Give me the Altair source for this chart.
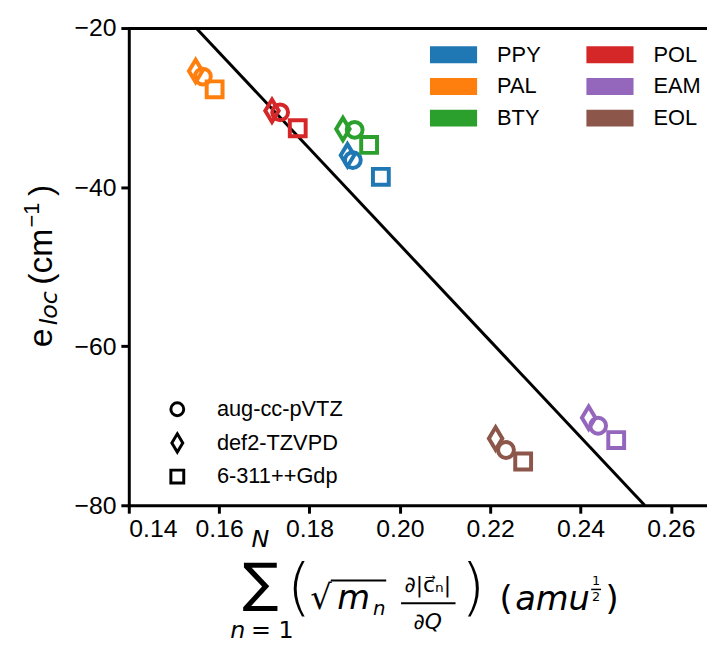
import altair as alt
import pandas as pd

# ---------------- data ----------------
molecules = ["PPY", "PAL", "BTY", "POL", "EAM", "EOL"]
mol_colors = ["#1f77b4", "#ff7f0e", "#2ca02c", "#d62728", "#9467bd", "#8c564b"]
basis_sets = ["aug-cc-pVTZ", "def2-TZVPD", "6-311++Gdp"]

# x / y per molecule for each basis set
x_aug = [0.1896, 0.1564, 0.1900, 0.1735, 0.2439, 0.2235]
y_aug = [-36.6, -26.1, -32.8, -30.6, -70.0, -73.05]
x_def2 = [0.1884, 0.1548, 0.1874, 0.1717, 0.2418, 0.2212]
y_def2 = [-36.0, -25.4, -32.7, -30.4, -69.0, -71.6]
x_631 = [0.1958, 0.1590, 0.1932, 0.1774, 0.2479, 0.2273]
y_631 = [-38.7, -27.7, -34.7, -32.6, -71.8, -74.5]

fit_x = [0.1549, 0.2542]
fit_y = [-20.0, -80.0]

x_ticks = [0.14, 0.16, 0.18, 0.20, 0.22, 0.24, 0.26]
y_ticks = [-20, -40, -60, -80]

# ---------------- tables ----------------
rows = []
for b, xs_, ys_ in [(basis_sets[0], x_aug, y_aug), (basis_sets[1], x_def2, y_def2), (basis_sets[2], x_631, y_631)]:
    for m, xv, yv in zip(molecules, xs_, ys_):
        rows.append({"molecule": m, "basis": b, "x": xv, "y": yv})
pts = pd.DataFrame(rows)
fit = pd.DataFrame({"fx": fit_x, "fy": fit_y})

DIAMOND = "M0,-1.414L0.849,0L0,1.414L-0.849,0Z"
RECT = "M-2.8,-1L2.8,-1L2.8,1L-2.8,1Z"
shape_range = ["circle", DIAMOND, "square"]

XD = [0.14, 0.268]
YD = [-80, -20]
xs = alt.Scale(domain=XD, nice=False, zero=False)
ys = alt.Scale(domain=YD, nice=False, zero=False)

# color legend layer (no marks, only legend)
legend_layer = alt.Chart(pts).transform_filter("false").mark_square(filled=True).encode(
    fill=alt.Fill("molecule:N", scale=alt.Scale(domain=molecules, range=mol_colors),
                  legend=alt.Legend(orient="none", legendX=317, legendY=16, columns=2,
                                    symbolType=RECT, symbolSize=289, symbolStrokeWidth=0,
                                    symbolOpacity=1,
                                    labelFont="Liberation Sans", labelFontSize=22, labelColor="black",
                                    labelOffset=33, columnPadding=45, rowPadding=10,
                                    title=None, padding=0))
)

line = alt.Chart(fit).mark_line(color="black", strokeWidth=3, clip=True).encode(
    x=alt.X("fx:Q", scale=xs, axis=alt.Axis(orient="top", labels=False, ticks=False, title=None,
                                             domainWidth=3, domainColor="black", domainCap="square")),
    y=alt.Y("fy:Q", scale=ys),
)

points = alt.Chart(pts).mark_point(filled=False, strokeWidth=4, size=256, opacity=1).encode(
    x=alt.X("x:Q", scale=xs, axis=alt.Axis(values=x_ticks, format=".2f", title=None)),
    y=alt.Y("y:Q", scale=ys, axis=alt.Axis(values=y_ticks, format="d", title=None)),
    stroke=alt.Stroke("molecule:N", scale=alt.Scale(domain=molecules, range=mol_colors), legend=None),
    shape=alt.Shape("basis:N", scale=alt.Scale(domain=basis_sets, range=shape_range),
                    legend=alt.Legend(orient="none", legendX=38, legendY=374, symbolSize=169,
                                      symbolStrokeWidth=3, symbolStrokeColor="black",
                                      symbolFillColor="transparent",
                                      labelFont="Liberation Sans", labelFontSize=22, labelColor="black",
                                      labelOffset=29, rowPadding=5, title=None, padding=0)),
)


def txt(s, x, y, size, italic=False, font="DejaVu Sans", angle=0, weight="normal"):
    kw = dict(align="center", baseline="middle", fontSize=size, font=font, color="black",
              fontStyle="italic" if italic else "normal", fontWeight=weight)
    if angle:
        kw["angle"] = angle
    return alt.Chart(pd.DataFrame({"t": [s]})).mark_text(**kw).encode(
        text="t:N", x=alt.value(x - 130), y=alt.value(y - 25))


def bar(x1, x2, y, w=2):
    return alt.Chart(pd.DataFrame({"t": [0]})).mark_rule(color="black", strokeWidth=w).encode(
        x=alt.value(x1 - 130), x2=alt.value(x2 - 130), y=alt.value(y - 25))


# x-axis title pieces (math expression)
xt = [
    txt("N", 263, 542, 24, italic=True),
    txt("∑", 263, 588, 54),
    txt("n", 240, 634, 24, italic=True),
    txt("= 1", 275, 634, 24),
    txt("(", 302, 592, 62, weight=200),
    txt("√", 324, 602, 34),
    bar(334, 390, 583, 2),
    txt("m", 357, 602, 34, italic=True),
    txt("n", 383, 612, 20, italic=True),
    txt("∂|c⃗ₙ|", 432, 588, 22),
    bar(405, 460, 606, 2),
    txt("∂Q", 432, 625, 22, italic=True),
    txt(")", 478, 592, 62, weight=200),
    txt("(", 511, 603, 34),
    txt("amu", 558, 603, 34, italic=True),
    txt("1", 602, 584, 13),
    bar(597, 607, 592, 1.5),
    txt("2", 602, 600, 13),
    txt(")", 618, 603, 34),
]

# y-axis title pieces (rotated)
yt = [
    txt("e", 42, 338, 34, font="Liberation Sans", angle=270),
    txt("loc", 50, 308, 24, italic=True, angle=270),
    txt("(cm", 42, 256, 34, font="Liberation Sans", angle=270),
    txt("−1", 32, 214, 22, font="Liberation Sans", angle=270),
    txt(")", 42, 189, 34, font="Liberation Sans", angle=270),
]

chart = alt.layer(legend_layer, line, points, *xt, *yt).resolve_axis(x="independent").resolve_scale(
    stroke="independent", fill="independent"
).properties(
    width=584, height=482,
    autosize=alt.AutoSizeParams(type="none"),
    padding={"left": 122, "top": 17, "right": 0, "bottom": 150},
).configure_view(stroke=None).configure_axis(
    grid=False, domainColor="black", domainWidth=3, domainCap="square",
    tickColor="black", tickWidth=3, tickSize=8,
    labelFont="Liberation Sans", labelFontSize=25, labelColor="black", labelPadding=4,
).configure_axisY(labelPadding=5)

chart.save("out.html", embed_options={"renderer": "svg", "actions": False})
